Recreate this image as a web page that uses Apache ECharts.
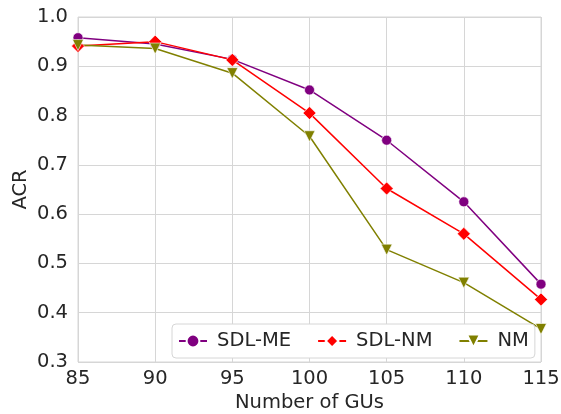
<!DOCTYPE html>
<html>
<head>
<meta charset="utf-8">
<script src="https://cdn.jsdelivr.net/npm/echarts@6/dist/echarts.min.js"></script>
<style>
  html, body { margin: 0; padding: 0; background: #fff; }
  #chart { width: 561px; height: 414px; }
</style>
</head>
<body>
<div id="chart"></div>
<script>
// data
var gus = [85, 90, 95, 100, 105, 110, 115];
var sdlMe = [0.958, 0.945, 0.914, 0.852, 0.750, 0.625, 0.458];
var sdlNm = [0.941, 0.950, 0.913, 0.805, 0.652, 0.560, 0.427];
var nm = [0.943, 0.936, 0.886, 0.758, 0.528, 0.461, 0.367];

var font = "DejaVu Sans";
var txt = "#262626";
var fs = 19.5;

// 把 x 和 y 拼成点对
function pairs(ys) {
  return gus.map(function (x, i) { return [x, ys[i]]; });
}

function lineSeries(name, ys, color, symbol, size) {
  return {
    name: name,
    type: "line",
    data: pairs(ys),
    symbol: symbol,
    symbolSize: size,
    clip: false,
    lineStyle: { color: color, width: 1.5 },
    itemStyle: { color: color, borderColor: "#fff", borderWidth: 0.6 }
  };
}

var chart = echarts.init(document.getElementById("chart"));
chart.setOption({
  animation: false,
  backgroundColor: "#fff",
  textStyle: { fontFamily: font },
  grid: {
    left: 78, right: 20, top: 17, bottom: 52,
    outerBoundsMode: "none",
    containLabel: false,
    show: true, borderColor: "#d6d6d6", borderWidth: 1
  },
  xAxis: {
    type: "value",
    min: 85, max: 115, interval: 5,
    name: "Number of GUs",
    nameLocation: "middle",
    nameGap: 31,
    nameMoveOverlap: false,
    nameTextStyle: { fontSize: fs, color: txt, fontFamily: font },
    axisLine: { show: false },
    axisTick: { show: false },
    axisLabel: { fontSize: fs, color: txt, margin: 7, fontFamily: font },
    splitLine: { show: true, lineStyle: { color: "#d6d6d6", width: 1 } }
  },
  yAxis: {
    type: "value",
    min: 0.3, max: 1.0, interval: 0.1,
    name: "ACR",
    nameLocation: "middle",
    nameGap: 47,
    nameMoveOverlap: false,
    nameTextStyle: { fontSize: fs, color: txt, fontFamily: font },
    axisLine: { show: false },
    axisTick: { show: false },
    axisLabel: {
      fontSize: fs, color: txt, margin: 10, fontFamily: font,
      formatter: function (v) { return v.toFixed(1); }
    },
    splitLine: { show: true, lineStyle: { color: "#d6d6d6", width: 1 } }
  },
  legend: {
    left: 172, top: 324,
    itemWidth: 28, itemHeight: 16, itemGap: 26,
    padding: [7, 6, 7, 6],
    backgroundColor: "#fff",
    borderColor: "#d6d6d6", borderWidth: 1, borderRadius: 4,
    textStyle: { fontSize: fs, color: txt, fontFamily: font, padding: [0, 0, 0, 5] },
    data: ["SDL-ME", "SDL-NM", "NM"]
  },
  series: [
    lineSeries("SDL-ME", sdlMe, "#800080", "circle", 10),
    lineSeries("SDL-NM", sdlNm, "#ff0000", "diamond", 13),
    lineSeries("NM", nm, "#808000", "path://M0,0 L10,0 L5,9 Z", 11)
  ]
});
</script>
</body>
</html>
